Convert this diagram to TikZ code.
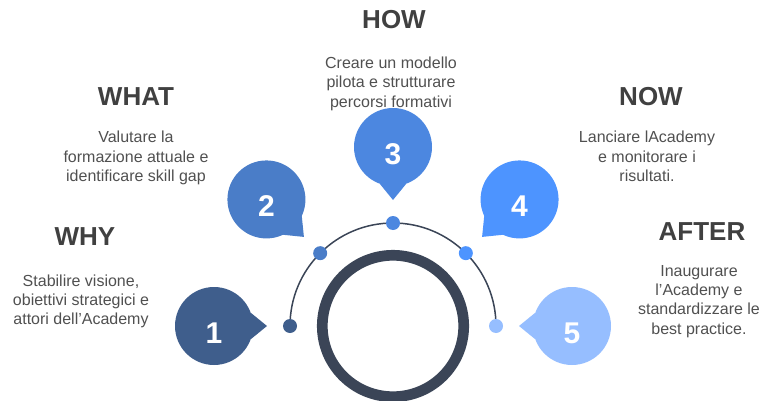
\documentclass[tikz,border=0pt]{standalone}
\usepackage{fontspec}
\setmainfont{Liberation Sans}
\definecolor{ringgray}{HTML}{3B4557}
\definecolor{headgray}{HTML}{404040}
\definecolor{bodygray}{HTML}{505050}
\definecolor{stepone}{HTML}{3F5E8C}
\definecolor{steptwo}{HTML}{4A7DC8}
\definecolor{stepthree}{HTML}{4C87E0}
\definecolor{stepfour}{HTML}{4D94FF}
\definecolor{stepfive}{HTML}{96BEFF}
\usetikzlibrary{positioning, calc, backgrounds}
\newcommand{\bubble}[4]
{
	\node[bubble, fill = #3] at ($ (C) + (#2:179) $) (B#1){};
	\coordinate (T#1) at ($ (C) + (#2:126) $);
	\fill[#3] ($ (B#1.center) + ({#2+160}:39) $) -- (T#1) -- ($ (B#1.center) + ({#2+200}:39) $) -- cycle;
	\node[number] at ($ (B#1.center) + (0,-7) $) (N#1){#4};
	\node[dot, fill = #3] at ($ (C) + (#2:103) $) (D#1){};
}

\begin{document}
\begin{tikzpicture}[x=1pt, y=1pt,
	bubble/.style={shape=circle, minimum size=78, inner sep=0, outer sep=0},
	dot/.style={shape=circle, minimum size=14, inner sep=0, outer sep=0},
	number/.style={text=white, font=\fontsize{30}{36}\selectfont\bfseries, inner sep=0},
	heading/.style={text=headgray, font=\fontsize{26}{31}\selectfont\bfseries, anchor=base, inner sep=0},
	body/.style={text=bodygray, font=\fontsize{16}{19.3}\selectfont, align=center, anchor=north, inner sep=0}]

	\useasboundingbox (0, 0) rectangle (763, 400);
	\coordinate (C) at (393, 74);

	\node[shape=circle, draw=ringgray, line width=10.7, minimum size=141.4, inner sep=0] at (C) (R){};

	\bubble{1}{180}{stepone}{1};
	\bubble{2}{135}{steptwo}{2};
	\bubble{3}{90}{stepthree}{3};
	\bubble{4}{45}{stepfour}{4};
	\bubble{5}{0}{stepfive}{5};

	\begin{scope}[on background layer]
		\draw[ringgray, line width=1.5] (D1.center) arc[start angle=180, end angle=0, radius=103];
	\end{scope}

	\node[heading] at (394, 371.7) (how){HOW};
	\node[body] at (391, 343.3) (howtxt){Creare un modello\\pilota e strutturare\\percorsi formativi};
	\node[heading] at (136, 294.3) (what){WHAT};
	\node[body] at (136, 269) (whattxt){Valutare la\\formazione attuale e\\identificare skill gap};
	\node[heading] at (85, 154.3) (why){WHY};
	\node[body] at (81, 125.7) (whytxt){Stabilire visione,\\obiettivi strategici e\\attori dell’Academy};
	\node[heading] at (651, 294.3) (now){NOW};
	\node[body] at (647, 269) (nowtxt){Lanciare lAcademy\\e monitorare i\\risultati.};
	\node[heading] at (702, 160) (after){AFTER};
	\node[body] at (699, 135) (aftertxt){Inaugurare\\l'Academy e\\standardizzare le\\best practice.};
\end{tikzpicture}
\end{document}
